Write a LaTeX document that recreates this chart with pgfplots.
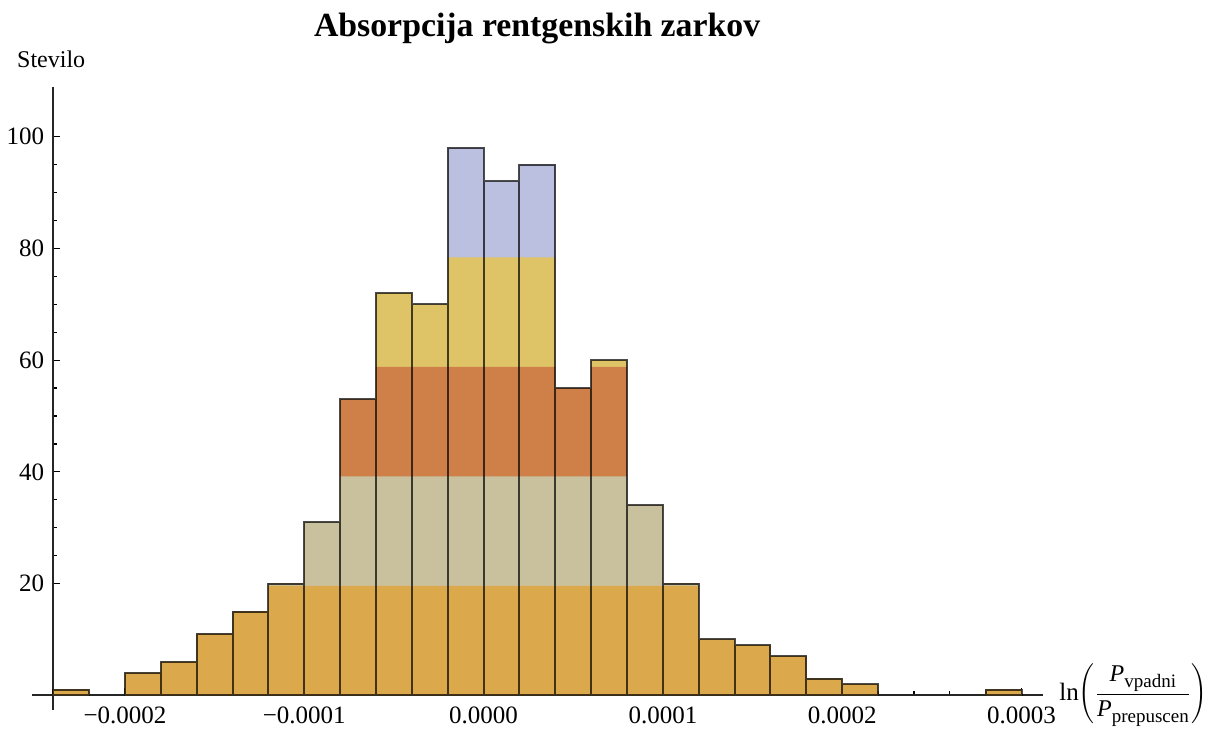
\documentclass[border=0pt]{standalone}
\usepackage{fontspec}
\setmainfont{Liberation Serif}
\usepackage{pgfplots}
\usepackage{pgfplotstable}
\pgfplotsset{compat=1.18}

\definecolor{cA}{HTML}{DBA84B}
\definecolor{cB}{HTML}{C9C09D}
\definecolor{cC}{HTML}{CF8049}
\definecolor{cD}{HTML}{DEC466}
\definecolor{cE}{HTML}{BBBFE0}

% bin centres in units of 1e-4, counts
\pgfplotstableread{
x n
-2.3 1
-1.9 4
-1.7 6
-1.5 11
-1.3 15
-1.1 20
-0.9 31
-0.7 53
-0.5 72
-0.3 70
-0.1 98
0.1 92
0.3 95
0.5 55
0.7 60
0.9 34
1.1 20
1.3 10
1.5 9
1.7 7
1.9 3
2.1 2
2.9 1
}\hist

\newcommand{\Pfrac}[1]{\mbox{\fontsize{12}{14}\selectfont\textit{P}\raisebox{-3pt}{\fontsize{9.5}{11}\selectfont #1}}}

\begin{document}
\begin{tikzpicture}
\begin{axis}[
  scale only axis,
  width=495pt, height=311.5pt,
  xmin=-2.4, xmax=3.12,
  ymin=-2.6, ymax=108.9,
  axis x line=middle,
  axis y line=left,
  axis line style={-, line width=0.9pt, black!85},
  ybar, bar shift=0pt, bar width=0.2,
  xtick={-2,-1,0,1,2,3},
  xticklabels={−0.0002,−0.0001,0.0000,0.0001,0.0002,0.0003},
  ytick={20,40,60,80,100},
  yticklabels={20,40,60,80,100},
  minor x tick num=4,
  minor y tick num=3,
  tick align=inside,
  major tick length=3.5pt,
  minor tick length=2pt,
  tick style={black, line width=0.6pt},
  ticklabel style={font=\fontsize{12.5}{14}\selectfont},
  xticklabel style={yshift=-2pt},
  yticklabel style={xshift=-1pt},
  title={Absorpcija rentgenskih zarkov},
  title style={font=\bfseries\fontsize{16.9}{20}\selectfont, at={(axis description cs:0.5,1)}, anchor=base, inner sep=0pt, yshift=19pt, xshift=-5.5pt},
  ylabel={Stevilo},
  ylabel style={font=\fontsize{12}{14}\selectfont, at={(axis description cs:0,1)}, anchor=base, rotate=-90, yshift=9.5pt, xshift=-1pt},
  xlabel={\fontsize{12.5}{14}\selectfont ln$\left(\displaystyle\frac{\Pfrac{vpadni}}{\Pfrac{prepuscen}}\right)$},
  xlabel style={at={(axis cs:3.12,0)}, anchor=west, inner sep=0pt, xshift=8pt},
  clip=false,
]
\addplot[fill=cE, draw=none] table[x=x, y=n]{\hist};
\addplot[fill=cD, draw=none] table[x=x, y expr={min(\thisrow{n},78.4)}]{\hist};
\addplot[fill=cC, draw=none] table[x=x, y expr={min(\thisrow{n},58.8)}]{\hist};
\addplot[fill=cB, draw=none] table[x=x, y expr={min(\thisrow{n},39.2)}]{\hist};
\addplot[fill=cA, draw=none] table[x=x, y expr={min(\thisrow{n},19.6)}]{\hist};
\addplot[fill=none, draw=black, draw opacity=0.7, line width=1pt] table[x=x, y=n]{\hist};
\draw[line width=0.9pt, black!85] (axis cs:-2.52,0) -- (axis cs:-2.4,0);
\end{axis}
\path ([xshift=-26.5pt,yshift=-14pt]current axis.south west) rectangle ([xshift=581pt,yshift=43.5pt]current axis.north west);
\end{tikzpicture}
\end{document}
